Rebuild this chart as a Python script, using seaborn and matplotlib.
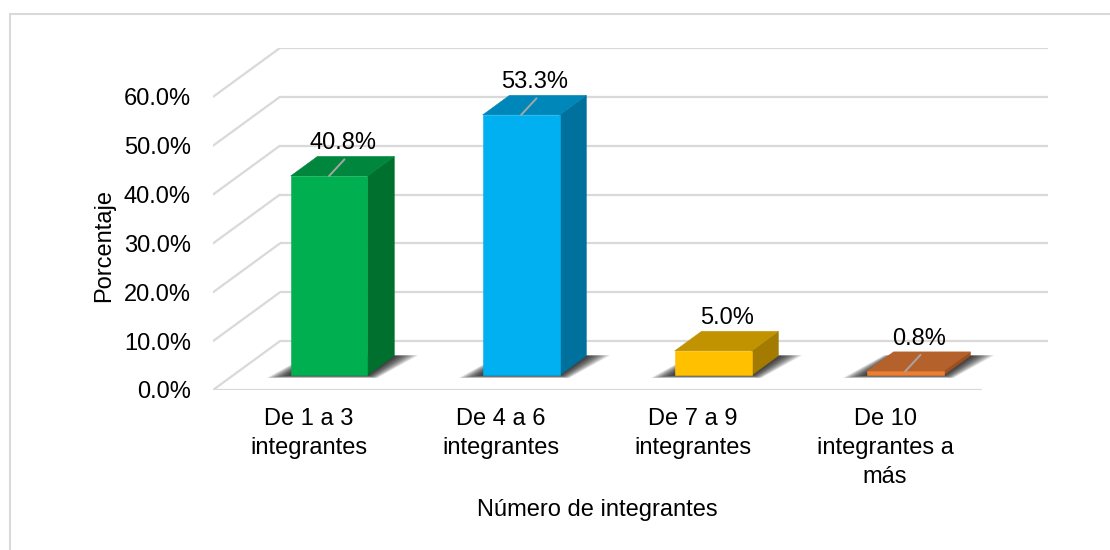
import matplotlib
matplotlib.use("Agg")
import matplotlib.pyplot as plt
import seaborn as sns
import numpy as np
from matplotlib.patches import Polygon, Rectangle
from matplotlib.transforms import Affine2D

# ---- data ----
categories = ["De 1 a 3\nintegrantes", "De 4 a 6\nintegrantes",
              "De 7 a 9\nintegrantes", "De 10\nintegrantes a\nmás"]
values = [40.8, 53.3, 5.0, 0.8]
value_labels = ["40.8%", "53.3%", "5.0%", "0.8%"]
ytick_values = [0, 10, 20, 30, 40, 50, 60]
ytick_labels = ["0.0%", "10.0%", "20.0%", "30.0%", "40.0%", "50.0%", "60.0%"]
x_title = "Número de integrantes"
y_title = "Porcentaje"

# ---- style ----
front_colors = ["#00B050", "#00B0F0", "#FFC000", "#ED7D31"]
top_colors = ["#00873D", "#0087BA", "#C29300", "#B5612C"]
side_colors = ["#00702F", "#00709C", "#A27B00", "#9C5020"]
leader_flags = [True, True, False, True]
grid_color = "#D9D9D9"

sns.set_theme(style="white")
plt.rcParams["font.family"] = ["Liberation Sans", "DejaVu Sans"]
FS = 17

fig = plt.figure(figsize=(11.1, 5.5), dpi=100)
ax = fig.add_axes([213 / 1110, (550 - 390) / 550, (1048 - 213) / 1110, (390 - 48) / 550])

# depth of the 3D box (data units)
DX, DY = 0.3485, 10.0
f0, fd = 0.30, 0.40          # bar front depth fraction and bar depth fraction
ox, oy = f0 * DX, f0 * DY
sx, sy = fd * DX, fd * DY

# grid: back wall + left wall slants + front floor edge
x0, x1 = -0.5, len(categories) - 0.5
for v in ytick_values:
    ax.plot([x0 + DX, x1 + DX], [v + DY, v + DY], color=grid_color, lw=1.6, zorder=0,
            solid_capstyle="butt")
    ax.plot([x0, x0 + DX], [v, v + DY], color=grid_color, lw=1.6, zorder=0)
ax.plot([x0, x1], [0, 0], color=grid_color, lw=1.6, zorder=0)

# bars (front faces) through seaborn
sns.barplot(x=list(range(len(categories))), y=values, hue=list(range(len(categories))),
            palette=front_colors, legend=False, width=0.40, ax=ax, saturation=1,
            native_scale=True, zorder=3)

bars = list(ax.patches)
shift = Affine2D().translate(ox, oy) + ax.transData
for i, p in enumerate(bars):
    p.set_transform(shift)
    p.set_edgecolor(front_colors[i])
    p.set_linewidth(0.4)
    p.set_zorder(3)
    xl = p.get_x() + ox
    w = p.get_width()
    h = p.get_height()
    yb = oy
    xr = xl + w
    yt = yb + h
    # shadow (soft, layered)
    n = 14
    for k in range(n):
        t = k / (n - 1)
        ex = 0.12 * (1 - t) + 0.005
        ey = 0.55 * (1 - t)
        poly = [(xl - ex, yb - ey), (xr + ex * 0.4, yb - ey),
                (xr + sx + ex, yb + sy + ey * 0.2), (xl + sx - ex * 0.4, yb + sy + ey * 0.2)]
        ax.add_patch(Polygon(poly, closed=True, facecolor="black", edgecolor="none",
                             alpha=0.095, zorder=1))
    # side face
    ax.add_patch(Polygon([(xr, yb), (xr + sx, yb + sy), (xr + sx, yt + sy), (xr, yt)],
                         closed=True, facecolor=side_colors[i], edgecolor=side_colors[i],
                         lw=0.4, zorder=2))
    # top face
    ax.add_patch(Polygon([(xl, yt), (xr, yt), (xr + sx, yt + sy), (xl + sx, yt + sy)],
                         closed=True, facecolor=top_colors[i], edgecolor=top_colors[i],
                         lw=0.4, zorder=2))
    # data label
    cx = xl + w / 2
    ax.text(cx + 0.072, yt + 6.7, value_labels[i], ha="center", va="center",
            fontsize=FS, color="black", zorder=6)
    if leader_flags[i]:
        ax.plot([cx, cx + 0.08], [yt, yt + 3.4], color="#A6A6A6", lw=1.4, zorder=5)

ax.set_xlim(x0, x1 + DX)
ax.set_ylim(0, 70)
ax.set_xticks(range(len(categories)))
ax.set_xticklabels(categories, fontsize=FS, linespacing=1.42)
ax.set_yticks(ytick_values)
ax.set_yticklabels(ytick_labels, fontsize=FS)
ax.tick_params(axis="both", length=0, colors="black")
ax.tick_params(axis="x", pad=13)
ax.tick_params(axis="y", pad=16)
ax.set_xlabel("")
ax.set_ylabel("")
for s in ax.spines.values():
    s.set_visible(False)
ax.patch.set_alpha(0)

fig.text(104 / 1110, 1 - 245 / 550, y_title, rotation=90, ha="center", va="center",
         fontsize=FS, color="black")
fig.text(597 / 1110, 1 - 510 / 550, x_title, ha="center", va="center",
         fontsize=FS, color="black")

# outer chart border (cropped on right and bottom)
fig.patches.append(Rectangle((10 / 1110, -0.1), 1.2, 1 - 14 / 550 + 0.1,
                             transform=fig.transFigure, fill=False,
                             edgecolor=grid_color, lw=1.5))

fig.savefig("out.png", dpi=100)
